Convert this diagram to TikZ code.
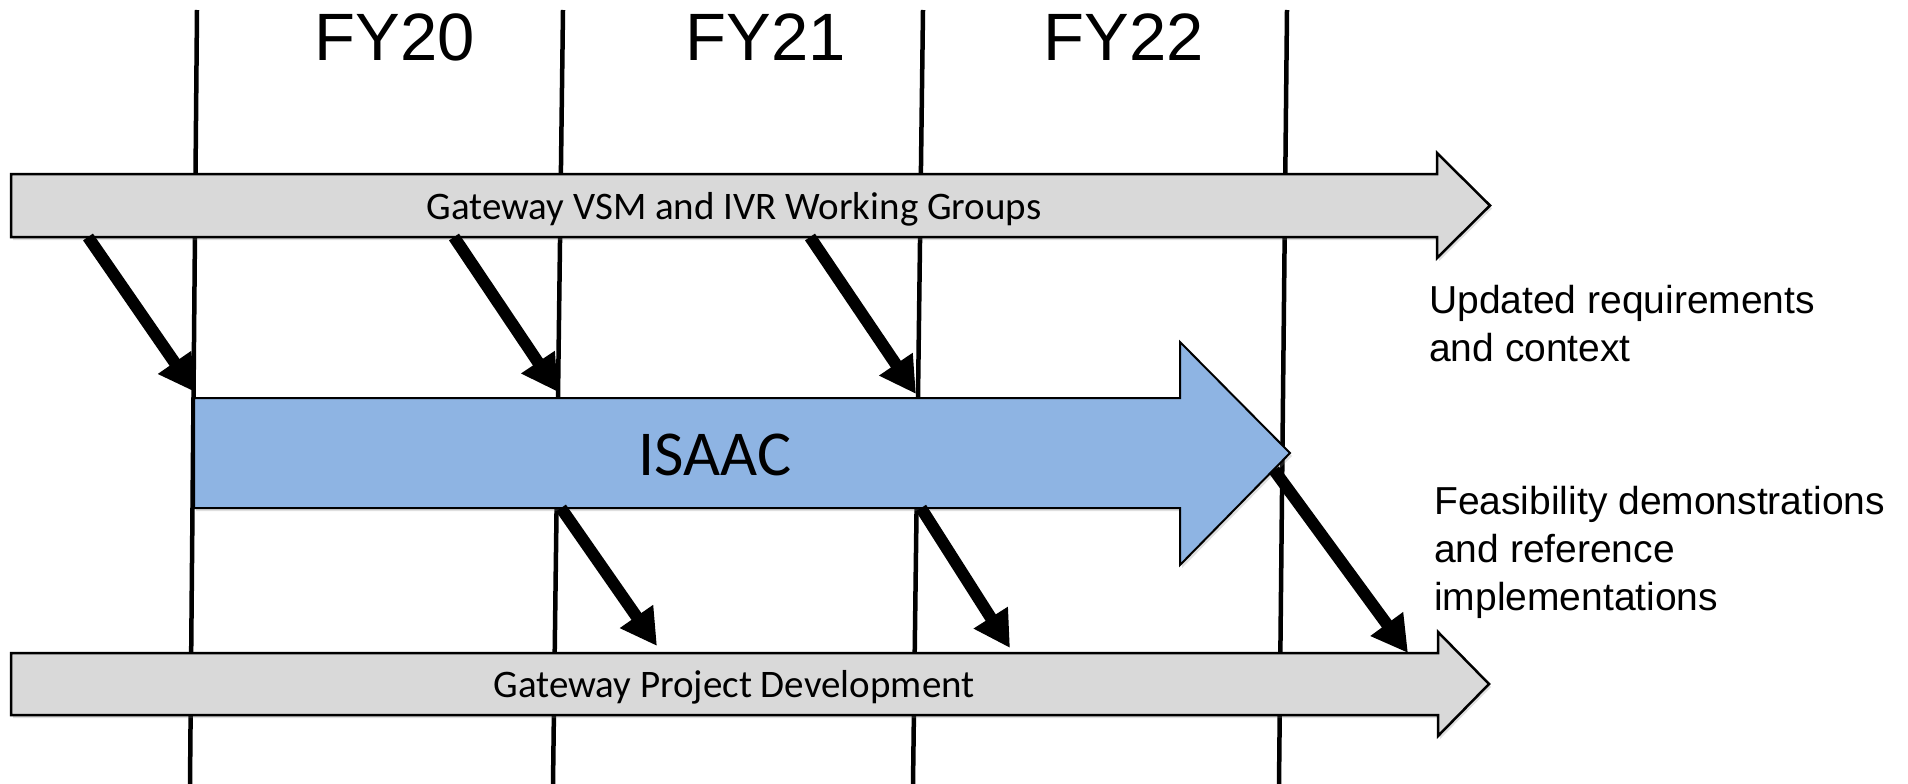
\documentclass[tikz,border=0pt]{standalone}
\usepackage{fontspec}
\setmainfont{Liberation Sans}
\newfontfamily\calibri{Carlito}
\usepackage{tikz}
\usetikzlibrary{arrows.meta,shadows}
\definecolor{bargray}{HTML}{D9D9D9}
\definecolor{isaacblue}{HTML}{8EB4E3}

\begin{document}
\begin{tikzpicture}[x=1pt,y=-1pt,join=miter,
        yearline/.style={line width=4.5pt},
        bar/.style={draw,line width=2.5pt,fill=bargray,
                drop shadow={shadow xshift=2pt,shadow yshift=-3pt,opacity=0.25}},
        isaacbar/.style={bar,line width=2pt,fill=isaacblue},
        feed/.style={line width=12pt,-{Triangle[length=36pt,width=38pt]}},
        year/.style={anchor=base,inner sep=0pt,font=\fontsize{67}{80}\selectfont},
        bartext/.style={anchor=base,inner sep=0pt,font=\calibri\fontsize{39}{47}\selectfont},
        note/.style={anchor=base west,inner sep=0pt,align=left,font=\fontsize{39}{48}\selectfont}] % roadmap, three fiscal years
        \useasboundingbox (0,0) rectangle (1908,784);
        % year boundaries
        \coordinate (y0top) at (197,10);  \coordinate (y0bot) at (190,784);
        \coordinate (y1top) at (563,10);  \coordinate (y1bot) at (553,784);
        \coordinate (y2top) at (923,10);  \coordinate (y2bot) at (913,784);
        \coordinate (y3top) at (1287,10); \coordinate (y3bot) at (1279,784);
        \draw[yearline] (y0top)--(y0bot);
        \draw[yearline] (y1top)--(y1bot);
        \draw[yearline] (y2top)--(y2bot);
        \draw[yearline] (y3top)--(y3bot);
        \node[year] (fy20) at (395,61) {FY20};
        \node[year] (fy21) at (766,61) {FY21};
        \node[year] (fy22) at (1124,61) {FY22};
        % the three bars
        \filldraw[bar](11,174)--(1437,174)--(1437,153)--(1490,205.5)--(1437,258)--(1437,237)--(11,237)--cycle;
        \filldraw[isaacbar](194,398)--(1180,398)--(1180,342)--(1290,453)--(1180,565)--(1180,508)--(194,508)--cycle;
        \filldraw[bar](11,653)--(1438,653)--(1438,632)--(1489,684)--(1438,736)--(1438,715)--(11,715)--cycle;
        \node[bartext] (vsm) at (734,219) {Gateway VSM and IVR Working Groups};
        \node[bartext,font=\calibri\fontsize{64}{77}\selectfont] (isaac) at (715,475) {ISAAC};
        \node[bartext] (gpd) at (734,697) {Gateway Project Development};
        % base of a multi-line note is its last line
        \node[note] (req) at (1429,361) {Updated requirements\\and context};
        \node[note] (demo) at (1434,610) {Feasibility demonstrations\\and reference\\implementations};
        % hand-offs
        \coordinate (v1) at (88,237);   \coordinate (i1) at (195,392);
        \coordinate (v2) at (454,237);  \coordinate (i2) at (558,392);
        \coordinate (v3) at (810,237);  \coordinate (i3) at (916,394);
        \coordinate (i4) at (561,508);  \coordinate (g1) at (657,646);
        \coordinate (i5) at (921,508);  \coordinate (g2) at (1010,648);
        \coordinate (i6) at (1274,470); \coordinate (g3) at (1408,653);
        \draw[feed] (v1)--(i1);
        \draw[feed] (v2)--(i2);
        \draw[feed] (v3)--(i3);
        \draw[feed] (i4)--(g1);
        \draw[feed] (i5)--(g2);
        \draw[feed] (i6)--(g3);
\end{tikzpicture}
\end{document}
